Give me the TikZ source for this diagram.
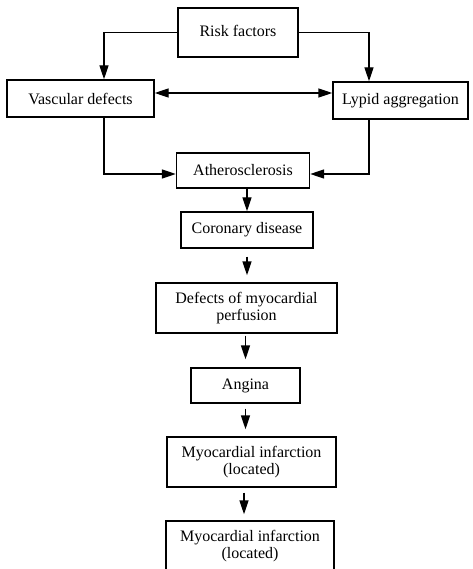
\documentclass[tikz,border=0pt]{standalone}
\usepackage{fontspec}
\setmainfont{Liberation Serif}
\usetikzlibrary{arrows.meta}
\begin{document}
\begin{tikzpicture}[x=1pt,y=-1pt,
  box/.style={draw,line width=1.4pt,inner sep=0pt,align=center,
    font=\fontsize{16}{17}\selectfont},
  arr/.style={line width=1.4pt,-{Triangle[length=14pt,width=9pt]}},
  arrtwo/.style={line width=1.4pt,{Triangle[length=14pt,width=9pt]}-{Triangle[length=14pt,width=9pt]}}]
\useasboundingbox (0,0) rectangle (472,569);
\clip (0,0) rectangle (472,569);
\node[box,minimum width=120pt,minimum height=49pt] (risk) at (238,32.5) {\raisebox{3pt}{Risk factors}};
\node[box,minimum width=147pt,minimum height=37pt] (vasc) at (80.5,98.5) {Vascular defects};
\node[box,minimum width=135pt,minimum height=37pt] (lypid) at (400.5,100.5) {Lypid aggregation};
\node[box,minimum width=133pt,minimum height=35pt] (ath) at (243,170.5) {Atherosclerosis};
\node[box,minimum width=132pt,minimum height=36pt] (cor) at (247,230) {Coronary disease};
\node[box,minimum width=181pt,minimum height=50pt] (def) at (246.5,308) {Defects of myocardial\\perfusion};
\node[box,minimum width=109pt,minimum height=35pt] (ang) at (245.5,385.5) {Angina};
\node[box,minimum width=169pt,minimum height=50pt] (mi1) at (251.5,462) {Myocardial infarction\\(located)};
\node[box,minimum width=168pt,minimum height=52pt] (mi2) at (250,547) {\raisebox{5pt}{\begin{tabular}{@{}c@{}}Myocardial infarction\\(located)\end{tabular}}};
\draw[arr] (risk.west) -| ([xshift=23.5pt]vasc.north);
\draw[arr] (risk.east) -| ([xshift=-31.5pt]lypid.north);
\draw[arrtwo] ([yshift=5.5pt]vasc.east) -- ([yshift=5.5pt]vasc.east -| lypid.west);
\draw[arr] ([xshift=23.5pt]vasc.south) |- ([yshift=-3.5pt]ath.west);
\draw[arr] ([xshift=-31.5pt]lypid.south) |- ([yshift=-3.5pt]ath.east);
\draw[arr] (ath.south -| cor.north) -- (cor.north);
\draw[arr,shorten <=8pt,shorten >=7pt] (cor.south) -- (cor.south |- def.north);
\draw[arr,shorten <=2pt,shorten >=8pt] (def.south -| ang.north) -- (ang.north);
\draw[arr,shorten <=5pt,shorten >=7pt] (ang.south) -- (ang.south |- mi1.north);
\draw[arr,shorten <=5pt,shorten >=6pt] ([xshift=-7.5pt]mi1.south) -- ([xshift=-7.5pt]mi1.south |- mi2.north);
\end{tikzpicture}
\end{document}
